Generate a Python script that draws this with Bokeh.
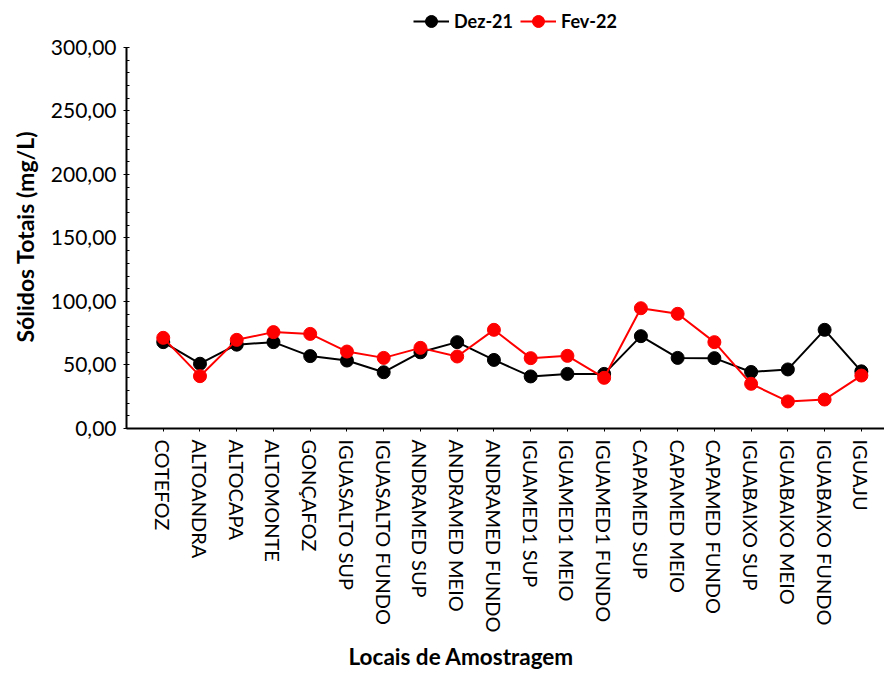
from bokeh.plotting import figure
from bokeh.models import FixedTicker, Legend, LegendItem, Range1d, Title
from bokeh.embed import file_html
from bokeh.resources import INLINE

# Sampling sites (x categories)
locais = [
    "COTEFOZ", "ALTOANDRA", "ALTOCAPA", "ALTOMONTE", "GONÇAFOZ",
    "IGUASALTO SUP", "IGUASALTO FUNDO", "ANDRAMED SUP", "ANDRAMED MEIO",
    "ANDRAMED FUNDO", "IGUAMED1 SUP", "IGUAMED1 MEIO", "IGUAMED1 FUNDO",
    "CAPAMED SUP", "CAPAMED MEIO", "CAPAMED FUNDO", "IGUABAIXO SUP",
    "IGUABAIXO MEIO", "IGUABAIXO FUNDO", "IGUAJU",
]

# Total solids (mg/L) per campaign
dez_21 = [68.0, 51.0, 66.0, 68.0, 57.0, 53.5, 44.3, 60.0, 68.0, 54.0,
          41.0, 43.0, 43.0, 72.7, 55.6, 55.4, 44.5, 46.5, 77.7, 45.0]
fev_22 = [71.4, 41.2, 69.8, 75.9, 74.5, 60.6, 55.6, 63.5, 56.7, 77.7,
          55.4, 57.2, 39.9, 94.7, 90.3, 68.0, 35.2, 21.3, 22.8, 41.7]

# Y axis ticks and their comma-decimal labels
y_ticks = [0, 50, 100, 150, 200, 250, 300]
y_tick_labels = ["0,00", "50,00", "100,00", "150,00", "200,00", "250,00", "300,00"]
y_minor = [v for v in range(0, 301, 10) if v % 50 != 0]

x_pos = list(range(1, len(locais) + 1))

FONT = "Lato"

# The frame reaches the top of the canvas so the legend can sit above the
# axis; the y axis itself is bounded to 0..300.
p = figure(
    width=884, height=675,
    output_backend="svg", toolbar_location=None,
    min_border_left=125, min_border_right=0,
    min_border_top=0, min_border_bottom=247,
    x_range=Range1d(0, 20.63), y_range=Range1d(0, 337.0),
)
p.outline_line_color = None
p.xgrid.visible = False
p.ygrid.visible = False
p.background_fill_color = "white"
p.border_fill_color = "white"

# Series
r_dez = p.line(x_pos, dez_21, line_color="black", line_width=2)
c_dez = p.scatter(x_pos, dez_21, size=13, fill_color="black", line_color="black")
r_fev = p.line(x_pos, fev_22, line_color="red", line_width=2)
c_fev = p.scatter(x_pos, fev_22, size=13, fill_color="red", line_color="red")

# X axis
xa = p.xaxis[0]
xa.ticker = FixedTicker(ticks=x_pos)
xa.major_label_overrides = {i: name for i, name in zip(x_pos, locais)}
xa.major_label_orientation = "vertical"
xa.major_label_text_font = FONT
xa.major_label_text_font_size = "20px"
xa.major_label_text_color = "black"
xa.major_label_standoff = 8
xa.major_tick_out = 3
xa.major_tick_in = 0
xa.minor_tick_line_color = None
xa.axis_line_width = 2
xa.axis_line_color = "black"
xa.major_tick_line_color = "black"

# Y axis
ya = p.yaxis[0]
ya.bounds = (0, 300)
ya.ticker = FixedTicker(ticks=y_ticks, minor_ticks=y_minor)
ya.major_label_overrides = {v: s for v, s in zip(y_ticks, y_tick_labels)}
ya.major_label_text_font = FONT
ya.major_label_text_font_size = "21px"
ya.major_label_text_color = "black"
ya.major_label_standoff = 7
ya.major_tick_out = 3
ya.major_tick_in = 3
ya.minor_tick_out = 0
ya.minor_tick_in = 3
ya.axis_line_width = 2
ya.axis_line_color = "black"

# Axis titles, positioned along their panels
x_title = Title(
    text="Locais de Amostragem", align="left", offset=222,
    text_font=FONT, text_font_style="bold", text_font_size="22.5px",
    text_color="black", standoff=11, text_line_height=1.0,
)
p.add_layout(x_title, "below")

y_title = Title(
    text="Sólidos Totais (mg/L)", align="left", offset=86,
    text_font=FONT, text_font_style="bold", text_font_size="23px",
    text_color="black", standoff=17,
)
p.add_layout(y_title, "left")

# Legend at the top, above the 300 line
legend = Legend(
    items=[
        LegendItem(label="Dez-21", renderers=[r_dez, c_dez]),
        LegendItem(label="Fev-22", renderers=[r_fev, c_fev]),
    ],
    orientation="horizontal",
    location=(287, 392),
    padding=0, margin=0, spacing=7,
    glyph_width=36, glyph_height=30, label_height=30,
    label_standoff=5,
    label_text_font=FONT, label_text_font_style="bold",
    label_text_font_size="18px", label_text_color="black",
    border_line_color=None, background_fill_alpha=0,
)
p.add_layout(legend, "center")

open("out.html", "w").write(file_html(p, INLINE))
